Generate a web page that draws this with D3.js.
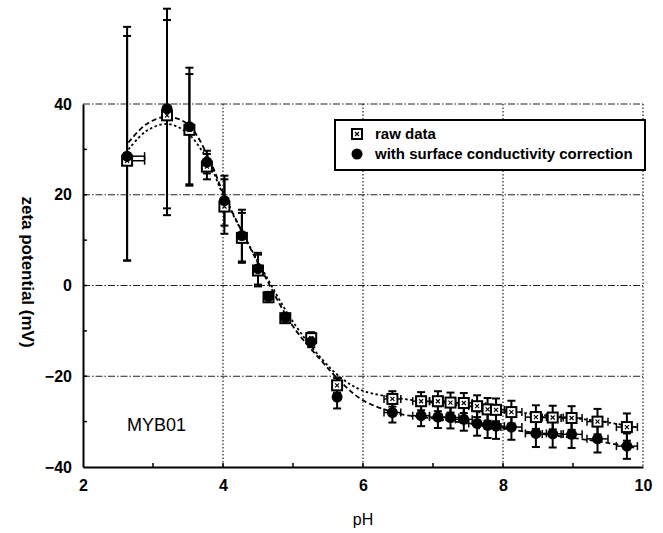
<!DOCTYPE html>
<html>
<head>
<meta charset="utf-8">
<script src="https://cdn.jsdelivr.net/npm/d3@7"></script>
<style>
  html, body { margin: 0; padding: 0; background: #fff; }
  svg { display: block; font-family: "Liberation Sans", Arial, sans-serif; }
</style>
</head>
<body>
<svg id="chart" width="663" height="533"></svg>
<script>
// Measured pH of each sample
const pH = [2.63, 3.2, 3.52, 3.77, 4.02, 4.27, 4.5, 4.65, 4.89, 5.26, 5.63, 6.42, 6.83, 7.07, 7.25, 7.44, 7.63, 7.78, 7.9, 8.12, 8.47, 8.71, 8.98, 9.35, 9.77];
// Horizontal uncertainty in pH (left / right of the point)
const pHErrLeft = [0, 0, 0, 0, 0, 0, 0, 0, 0, 0, 0, 0.12, 0.12, 0.12, 0.12, 0.12, 0.12, 0.12, 0.12, 0.15, 0.15, 0.15, 0.15, 0.15, 0.15];
const pHErrRight = [0.25, 0, 0, 0, 0, 0, 0, 0, 0, 0, 0, 0.12, 0.12, 0.12, 0.12, 0.12, 0.12, 0.12, 0.12, 0.15, 0.15, 0.15, 0.15, 0.15, 0.15];

// Zeta potential (mV), raw data
const rawZeta = [27.5, 37.5, 34.3, 26.2, 17.4, 10.5, 3.3, -2.6, -7.2, -11.6, -22.0, -25.0, -25.5, -25.5, -25.8, -25.9, -26.6, -27.3, -27.4, -27.9, -29.0, -29.1, -29.2, -30.0, -31.2];
const rawErrUp = [27.5, 21, 12.3, 2.8, 6, 5.5, 3.5, 1, 0.8, 1.3, 1.6, 1.7, 2, 2.2, 2.2, 2.2, 2.4, 2.5, 2.5, 2.5, 2.6, 2.6, 2.6, 2.8, 3];
const rawErrDown = [22, 22, 12, 2.8, 6, 5.5, 3.5, 1, 0.8, 1.3, 1.6, 1.7, 2, 2.2, 2.2, 2.2, 2.4, 2.5, 2.5, 2.5, 2.6, 2.6, 2.6, 2.8, 3];

// Zeta potential (mV) with surface conductivity correction
const corrZeta = [28.5, 39.0, 35.0, 27.2, 18.7, 11.0, 3.7, -2.4, -7.0, -12.4, -24.6, -28.0, -28.7, -29.0, -29.1, -29.5, -30.4, -30.8, -31.0, -31.2, -32.6, -32.7, -32.8, -33.8, -35.4];
const corrErrUp = [28.5, 22, 13, 2.5, 5.5, 5.7, 3.5, 1, 0.8, 1.2, 2.5, 2.2, 2.3, 2.4, 2.4, 2.5, 2.7, 2.8, 2.8, 2.8, 3, 3, 3, 3, 2.8];
const corrErrDown = [23, 22, 13, 2.5, 5.5, 5.7, 3.5, 1, 0.8, 1.2, 2.5, 2.2, 2.3, 2.4, 2.4, 2.5, 2.7, 2.8, 2.8, 2.8, 3, 3, 3, 3, 2.8];

// Fitted curves
const fitPH = [2.65, 2.9, 3.2, 3.5, 3.8, 4.0, 4.3, 4.6, 5.0, 5.4, 5.7, 6.0, 6.5, 7.0, 7.5, 8.0, 8.5, 9.0, 9.5, 9.9];
const rawFit = [30, 34, 35.6, 33.5, 27, 20, 11, 2.5, -8, -16, -20.5, -23.2, -24.8, -25.8, -26.6, -27.5, -28.4, -29.2, -30.2, -31.2];
const corrFit = [31.5, 35.5, 37.2, 35.5, 28, 20.5, 11, 2, -9, -16.5, -21.5, -25.3, -28.2, -29.3, -30.4, -31.5, -32.6, -33.6, -34.7, -35.8];

// Axis ticks
const xTicks = [2, 4, 6, 8, 10];
const xMinor = [3, 5, 7, 9];
const yTicks = [-40, -20, 0, 20, 40];
const yMinor = [-30, -10, 10, 30];

const legendLabels = ["raw data", "with surface conductivity correction"];
const sampleName = "MYB01";

const svg = d3.select("#chart");
const L = 83, T = 104, R = 643, B = 467;

const x = d3.scaleLinear().domain([2, 10]).range([L, R]);
const y = d3.scaleLinear().domain([-40, 40]).range([B, T]);

// Grid: dash-dot horizontals, dotted verticals
svg.append("g").selectAll("line").data([0, 20, -20, 40]).join("line")
  .attr("x1", L).attr("x2", R)
  .attr("y1", d => y(d)).attr("y2", d => y(d))
  .attr("stroke", "#222").attr("stroke-width", 1)
  .attr("stroke-dasharray", "7,2,1.5,2");
svg.append("g").selectAll("line").data([4, 6, 8, 10]).join("line")
  .attr("x1", d => x(d)).attr("x2", d => x(d))
  .attr("y1", T).attr("y2", B)
  .attr("stroke", "#222").attr("stroke-width", 1.2)
  .attr("stroke-dasharray", "1.5,2");

// Axes
const xAxis = svg.append("g").attr("transform", `translate(0,${B})`)
  .call(d3.axisBottom(x).tickValues(xTicks).tickSize(0).tickPadding(13).tickFormat(d3.format("d")));
xAxis.select(".domain").attr("stroke", "#000").attr("stroke-width", 2);
xAxis.selectAll("text").attr("font-size", 16).attr("font-weight", "bold").attr("fill", "#000");

svg.append("g").selectAll("line").data(xMinor.concat([4, 6, 8])).join("line")
  .attr("x1", d => x(d)).attr("x2", d => x(d))
  .attr("y1", B).attr("y2", B - 4)
  .attr("stroke", "#000").attr("stroke-width", 1.5);

const yAxis = svg.append("g").attr("transform", `translate(${L},0)`)
  .call(d3.axisLeft(y).tickValues(yTicks).tickSize(0).tickPadding(11)
    .tickFormat(d => d < 0 ? "\u2212" + Math.abs(d) : String(d)));
yAxis.select(".domain").attr("stroke", "#000").attr("stroke-width", 2);
yAxis.selectAll("text").attr("font-size", 16).attr("font-weight", "bold").attr("fill", "#000");

svg.append("g").selectAll("line").data(yMinor.concat([-20, 0, 20])).join("line")
  .attr("x1", L).attr("x2", L + 4)
  .attr("y1", d => y(d)).attr("y2", d => y(d))
  .attr("stroke", "#000").attr("stroke-width", 1.5);

// Axis titles
svg.append("text")
  .attr("transform", `translate(22,272) rotate(90)`)
  .attr("text-anchor", "middle")
  .attr("font-size", 17).attr("font-weight", "bold")
  .text("zeta potential (mV)");
svg.append("text")
  .attr("x", x(6)).attr("y", 525)
  .attr("text-anchor", "middle")
  .attr("font-size", 16)
  .text("pH");

// Sample label
svg.append("text")
  .attr("x", 127).attr("y", 431)
  .attr("font-size", 18)
  .text(sampleName);

// Fitted curves
const line = d3.line().x(d => x(d[0])).y(d => y(d[1])).curve(d3.curveCatmullRom);
svg.append("path")
  .attr("d", line(fitPH.map((p, i) => [p, corrFit[i]])))
  .attr("fill", "none").attr("stroke", "#000").attr("stroke-width", 1.8)
  .attr("stroke-dasharray", "5,3");
svg.append("path")
  .attr("d", line(fitPH.map((p, i) => [p, rawFit[i]])))
  .attr("fill", "none").attr("stroke", "#000").attr("stroke-width", 1.8)
  .attr("stroke-dasharray", "2.5,2.5");

// Error bars
function errorBars(vals, up, down) {
  const g = svg.append("g").attr("stroke", "#000").attr("stroke-width", 2);
  pH.forEach((p, i) => {
    const cx = x(p), top = y(vals[i] + up[i]), bot = y(vals[i] - down[i]);
    g.append("line").attr("x1", cx).attr("x2", cx).attr("y1", top).attr("y2", bot);
    g.append("line").attr("x1", cx - 4).attr("x2", cx + 4).attr("y1", top).attr("y2", top);
    g.append("line").attr("x1", cx - 4).attr("x2", cx + 4).attr("y1", bot).attr("y2", bot);
    const cy = y(vals[i]);
    [[pHErrLeft[i], -1], [pHErrRight[i], 1]].forEach(([e, s]) => {
      if (e > 0) {
        const ex = x(p + s * e);
        g.append("line").attr("x1", cx).attr("x2", ex).attr("y1", cy).attr("y2", cy).attr("stroke-width", 1.5);
        g.append("line").attr("x1", ex).attr("x2", ex).attr("y1", cy - 4).attr("y2", cy + 4).attr("stroke-width", 1.5);
      }
    });
  });
}
errorBars(rawZeta, rawErrUp, rawErrDown);
errorBars(corrZeta, corrErrUp, corrErrDown);

// Markers
function filledMarker(g, cx, cy) {
  g.append("circle").attr("cx", cx).attr("cy", cy).attr("r", 5.5).attr("fill", "#000");
}
function openMarker(g, cx, cy) {
  g.append("rect").attr("x", cx - 5).attr("y", cy - 5).attr("width", 10).attr("height", 10)
    .attr("fill", "#fff").attr("stroke", "#000").attr("stroke-width", 2);
  g.append("path").attr("d", `M${cx - 2},${cy - 2}L${cx + 2},${cy + 2}M${cx + 2},${cy - 2}L${cx - 2},${cy + 2}`)
    .attr("stroke", "#000").attr("stroke-width", 1.2);
}
const gRaw = svg.append("g");
pH.forEach((p, i) => openMarker(gRaw, x(p), y(rawZeta[i])));
const gCorr = svg.append("g");
pH.forEach((p, i) => filledMarker(gCorr, x(p), y(corrZeta[i])));

// Legend
const lg = svg.append("g");
lg.append("rect").attr("x", 335).attr("y", 120).attr("width", 310).attr("height", 50)
  .attr("fill", "#fff").attr("stroke", "#000").attr("stroke-width", 2);
openMarker(lg, 357, 134);
filledMarker(lg, 357, 154);
legendLabels.forEach((t, i) => {
  lg.append("text").attr("x", 375).attr("y", 139 + i * 20)
    .attr("font-size", 15).attr("font-weight", "bold")
    .text(t);
});
</script>
</body>
</html>
